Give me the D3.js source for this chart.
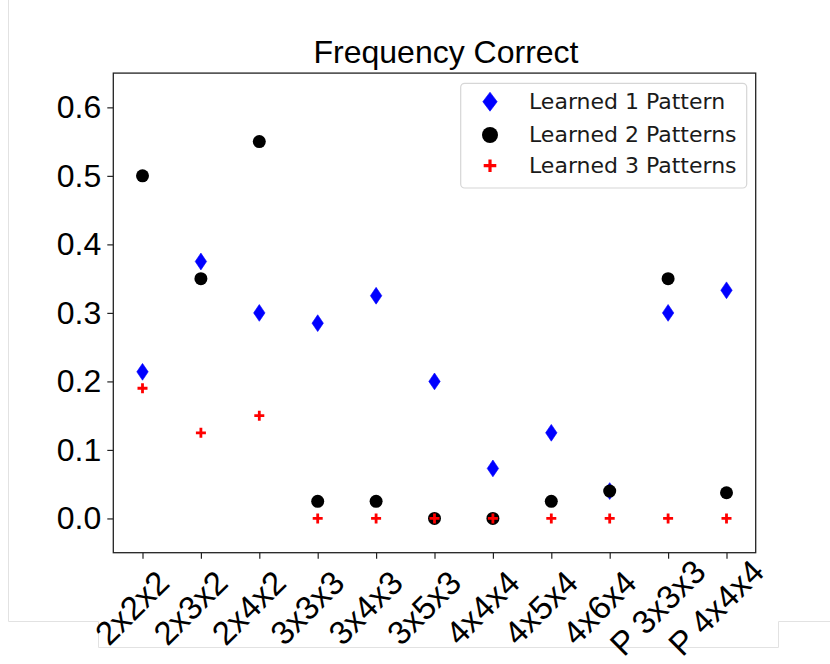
<!DOCTYPE html>
<html>
<head>
<meta charset="utf-8">
<script src="https://cdn.jsdelivr.net/npm/d3@7"></script>
<style>
  html, body { margin: 0; padding: 0; background: #ffffff; }
  svg { display: block; }
</style>
</head>
<body>
<script>
// ---- data ----
const categories = ["2x2x2", "2x3x2", "2x4x2", "3x3x3", "3x4x3", "3x5x3", "4x4x4", "4x5x4", "4x6x4", "P 3x3x3", "P 4x4x4"];
const learned1 = [0.214, 0.375, 0.300, 0.285, 0.325, 0.200, 0.073, 0.125, 0.040, 0.300, 0.333];
const learned2 = [0.500, 0.350, 0.550, 0.025, 0.025, 0.000, 0.000, 0.025, 0.040, 0.350, 0.0375];
const learned3 = [0.190, 0.125, 0.150, 0.000, 0.000, 0.000, 0.000, 0.000, 0.000, 0.000, 0.000];
const seriesNames = ["Learned 1 Pattern", "Learned 2 Patterns", "Learned 3 Patterns"];
const yTicks = [0.0, 0.1, 0.2, 0.3, 0.4, 0.5, 0.6];
const titleText = "Frequency Correct";

// ---- layout ----
const W = 830, H = 664;
const plot = { left: 113.3, right: 755.7, top: 73.1, bottom: 552.7 };
const sansFont = "'Liberation Sans', Arial, Helvetica, sans-serif";
const legendFont = "'DejaVu Sans', Verdana, sans-serif";

const svg = d3.select("body").append("svg").attr("width", W).attr("height", H);

// faint page outline
svg.append("path")
  .attr("d", "M8.5,0 V621.5 H98.5 V647.5 H778.5 V621.5 H830")
  .attr("fill", "none").attr("stroke", "#e2e2e2").attr("stroke-width", 1);

const x = d3.scaleLinear().domain([-0.5, 10.5]).range([plot.left, plot.right]);
const y = d3.scaleLinear().domain([-0.05, 0.65]).range([plot.bottom, plot.top]);

// title
svg.append("text")
  .attr("x", 446).attr("y", 63)
  .attr("text-anchor", "middle")
  .attr("font-family", sansFont).attr("font-size", 32)
  .attr("fill", "#000").text(titleText);

// y axis
const yAxis = svg.append("g")
  .attr("transform", `translate(${plot.left},0)`)
  .call(d3.axisLeft(y).tickValues(yTicks).tickFormat(d3.format(".1f")).tickSize(6).tickPadding(6));
yAxis.select(".domain").remove();
yAxis.selectAll(".tick line").attr("stroke", "#222").attr("stroke-width", 1.2);
yAxis.selectAll(".tick text")
  .attr("font-family", sansFont).attr("font-size", 32).attr("fill", "#000");

// x axis
const xAxis = svg.append("g")
  .attr("transform", `translate(0,${plot.bottom})`)
  .call(d3.axisBottom(x).tickValues(d3.range(categories.length)).tickFormat(i => categories[i]).tickSize(6));
xAxis.select(".domain").remove();
xAxis.selectAll(".tick line").attr("stroke", "#222").attr("stroke-width", 1.2);
xAxis.selectAll(".tick text")
  .attr("font-family", sansFont).attr("font-size", 33).attr("fill", "#000")
  .attr("text-anchor", "middle")
  .attr("dominant-baseline", "central")
  .attr("y", null).attr("dy", null)
  .attr("transform", "translate(-11,55) rotate(-45)");

// frame
svg.append("rect")
  .attr("x", plot.left).attr("y", plot.top)
  .attr("width", plot.right - plot.left).attr("height", plot.bottom - plot.top)
  .attr("fill", "none").attr("stroke", "#222").attr("stroke-width", 1.3);

// marker shapes
function thinDiamond(hw, hh) {
  return `M0,${-hh} L${hw},0 L0,${hh} L${-hw},0 Z`;
}
function plusPath(h) {
  return `M${-h},0 H${h} M0,${-h} V${h}`;
}

const idx = d3.range(categories.length);
const g = svg.append("g");

// series 1: blue thin diamonds
g.selectAll("path.s1").data(idx).join("path")
  .attr("class", "s1")
  .attr("transform", i => `translate(${x(i)},${y(learned1[i])})`)
  .attr("d", thinDiamond(5.7, 8.4))
  .attr("fill", "#0000ff").attr("stroke", "#0000ff").attr("stroke-width", 0.6);

// series 2: black circles
g.selectAll("circle.s2").data(idx).join("circle")
  .attr("class", "s2")
  .attr("cx", i => x(i)).attr("cy", i => y(learned2[i]))
  .attr("r", 6.5).attr("fill", "#000");

// series 3: red plus
g.selectAll("path.s3").data(idx).join("path")
  .attr("class", "s3")
  .attr("transform", i => `translate(${x(i)},${y(learned3[i])})`)
  .attr("d", plusPath(5))
  .attr("fill", "none").attr("stroke", "#ff0000").attr("stroke-width", 2.8);

// legend
const lg = svg.append("g");
lg.append("rect")
  .attr("x", 460.7).attr("y", 83.3).attr("width", 286).attr("height", 104.7)
  .attr("rx", 4).attr("fill", "#fff").attr("fill-opacity", 0.9)
  .attr("stroke", "#d6d6d6").attr("stroke-width", 1.2);

const rowY = [101.7, 135, 165.7];
const mx = 490;
lg.append("path")
  .attr("transform", `translate(${mx},${rowY[0]})`)
  .attr("d", thinDiamond(7.2, 9.5))
  .attr("fill", "#0000ff").attr("stroke", "#0000ff").attr("stroke-width", 0.6);
lg.append("circle")
  .attr("cx", mx).attr("cy", rowY[1]).attr("r", 8).attr("fill", "#000");
lg.append("path")
  .attr("transform", `translate(${mx},${rowY[2]})`)
  .attr("d", plusPath(6.3))
  .attr("fill", "none").attr("stroke", "#ff0000").attr("stroke-width", 3.2);

lg.selectAll("text.lt").data(seriesNames).join("text")
  .attr("class", "lt")
  .attr("x", 529).attr("y", (d, i) => rowY[i] + 7)
  .attr("font-family", legendFont).attr("font-size", 22)
  .attr("fill", "#1a1a1a").text(d => d);
</script>
</body>
</html>
